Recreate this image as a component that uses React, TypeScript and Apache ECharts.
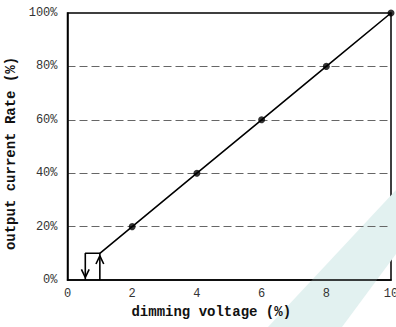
import React, { useEffect, useRef } from "react";
import * as echarts from "echarts";

const xTicks = [0, 2, 4, 6, 8, 10];
const yTicks = [0, 20, 40, 60, 80, 100];
const curveX = [1, 2, 4, 6, 8, 10];
const curveY = [10, 20, 40, 60, 80, 100];
const markerX = [2, 4, 6, 8, 10];
const markerY = [20, 40, 60, 80, 100];
const hystX = [0.55, 0.55, 1, 1];
const hystY = [0, 10, 10, 0];
const downArrowX = [0.43, 0.55, 0.67];
const downArrowY = [4, 1, 4];
const upArrowX = [0.88, 1, 1.12];
const upArrowY = [6, 9, 6];

const xTitle = "dimming voltage (%)";
const yTitle = "output current Rate (%)";

const zip = (a: number[], b: number[]) => a.map((v, i) => [v, b[i]]);

export default function App() {
  const ref = useRef<HTMLDivElement>(null);
  useEffect(() => {
    if (!ref.current) return;
    const chart = echarts.init(ref.current, null, { renderer: "svg" });
    const tickFont = { fontFamily: "Liberation Mono", fontSize: 12, color: "#333" };
    const titleFont = {
      fontFamily: "Liberation Mono",
      fontSize: 14,
      fontWeight: "bold" as const,
      color: "#111",
    };
    const blackLine = { color: "#000", width: 1.6 };
    chart.setOption({
      animation: false,
      backgroundColor: "#fff",
      graphic: [
        {
          type: "polygon",
          z: 0,
          silent: true,
          shape: {
            points: [
              [268, 327],
              [396, 190],
              [396, 254],
              [342, 327],
            ],
          },
          style: { fill: "#e2f1f0" },
        },
      ],
      grid: {
        left: 67.5,
        right: 5,
        top: 13,
        bottom: 47,
        containLabel: false,
        outerBoundsMode: "none",
        show: true,
        borderColor: "#000",
        borderWidth: 1.5,
        backgroundColor: "transparent",
      },
      xAxis: {
        type: "value",
        min: 0,
        max: 10,
        interval: 2,
        axisLine: { show: true, lineStyle: { color: "#000", width: 1.5 } },
        axisTick: { show: false },
        splitLine: { show: false },
        axisLabel: { ...tickFont, margin: 8, formatter: (v: number) => (xTicks.includes(v) ? String(v) : "") },
        name: xTitle,
        nameLocation: "middle",
        nameGap: 24,
        nameTextStyle: { ...titleFont, padding: [0, 36, 0, 0] },
      },
      yAxis: {
        type: "value",
        min: 0,
        max: 100,
        interval: 20,
        axisLine: { show: true, lineStyle: { color: "#000", width: 1.5 } },
        axisTick: { show: false },
        splitLine: {
          show: true,
          lineStyle: {
            color: ["transparent", "#666", "#666", "#666", "#666", "transparent"],
            type: [8, 4],
            width: 1,
          },
        },
        axisLabel: { ...tickFont, margin: 10, formatter: (v: number) => (yTicks.includes(v) ? v + "%" : "") },
        name: yTitle,
        nameLocation: "middle",
        nameGap: 38,
        nameTextStyle: { ...titleFont, padding: [0, 14, 0, 0] },
      },
      series: [
        {
          type: "line",
          data: zip(curveX, curveY),
          showSymbol: false,
          symbol: "none",
          lineStyle: blackLine,
          z: 3,
        },
        {
          type: "scatter",
          data: zip(markerX, markerY),
          symbol: "circle",
          symbolSize: 7,
          itemStyle: { color: "#000" },
          z: 4,
        },
        {
          type: "line",
          data: zip(hystX, hystY),
          symbol: "none",
          lineStyle: blackLine,
          z: 3,
        },
        {
          type: "line",
          data: zip(downArrowX, downArrowY),
          symbol: "none",
          lineStyle: blackLine,
          z: 3,
        },
        {
          type: "line",
          data: zip(upArrowX, upArrowY),
          symbol: "none",
          lineStyle: blackLine,
          z: 3,
        },
      ],
    });
    return () => chart.dispose();
  }, []);
  return (
    <div
      ref={ref}
      style={{ position: "fixed", left: 0, top: 0, width: 396, height: 327 }}
    />
  );
}
